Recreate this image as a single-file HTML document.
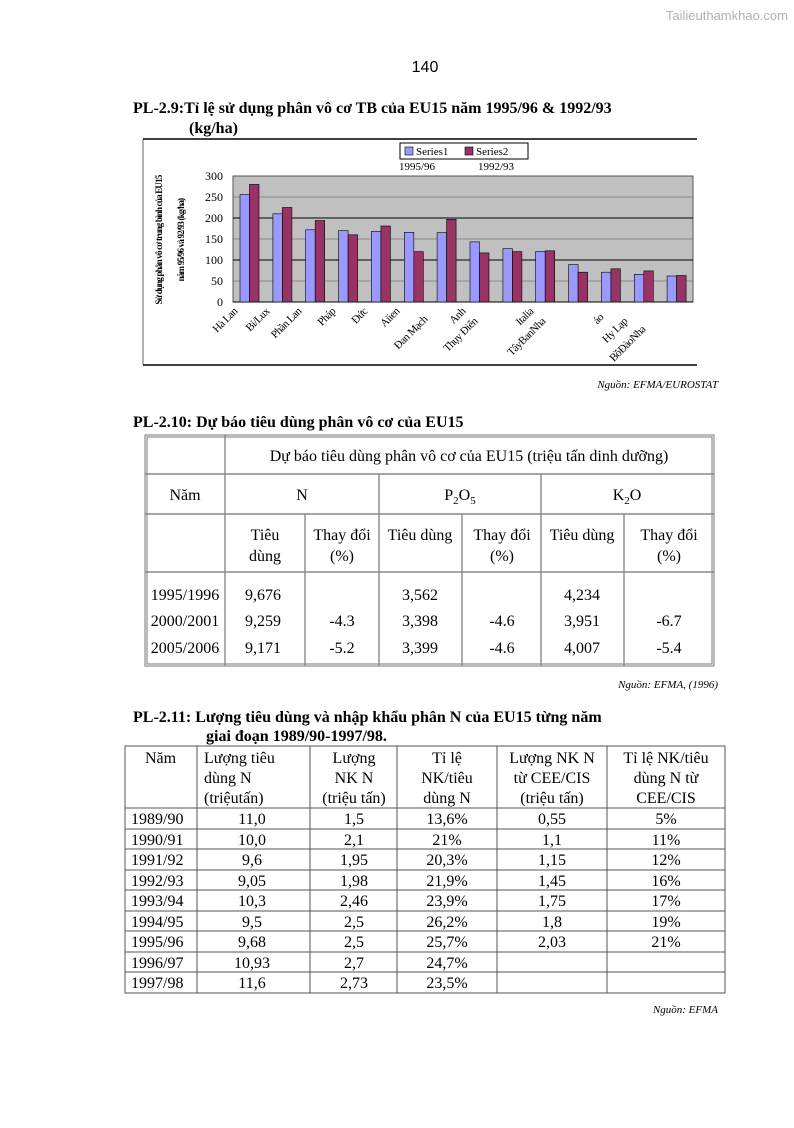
<!DOCTYPE html>
<html><head><meta charset="utf-8"><style>
body{margin:0;background:#fff}
svg text{font-family:"Liberation Serif",serif;fill:#000}
</style></head><body>
<svg width="794" height="1123" viewBox="0 0 794 1123" xmlns="http://www.w3.org/2000/svg">
<text x="788" y="20" text-anchor="end" style="font-family:'Liberation Sans',sans-serif;fill:#b0b0b0" font-size="13">Tailieuthamkhao.com</text>
<text x="425" y="72" text-anchor="middle" style="font-family:'Liberation Sans',sans-serif" font-size="16">140</text>
<text x="133" y="113" font-size="16" font-weight="bold">PL-2.9:Tỉ lệ sử dụng phân vô cơ TB của EU15 năm 1995/96 &amp; 1992/93</text>
<text x="189" y="133" font-size="16" font-weight="bold">(kg/ha)</text>

<line x1="143" y1="139" x2="697" y2="139" stroke="#000" stroke-width="1.5"/>
<line x1="143" y1="365" x2="697" y2="365" stroke="#000" stroke-width="1.5"/>
<line x1="143" y1="139" x2="143" y2="365" stroke="#000" stroke-width="0.6"/>
<rect x="233" y="176" width="460" height="126" fill="#c0c0c0" stroke="#555" stroke-width="1"/>
<g stroke="#000" stroke-width="1">
<line x1="233" y1="218" x2="693" y2="218"/><line x1="233" y1="260" x2="693" y2="260"/>
<line x1="233" y1="302" x2="693" y2="302"/>
</g>
<g stroke="#555" stroke-width="0.6">
<line x1="233" y1="197" x2="693" y2="197"/><line x1="233" y1="239" x2="693" y2="239"/><line x1="233" y1="281" x2="693" y2="281"/>
</g>
<g font-size="12" text-anchor="end">
<text x="223" y="180">300</text><text x="223" y="201">250</text><text x="223" y="222">200</text>
<text x="223" y="243">150</text><text x="223" y="264">100</text><text x="223" y="285">50</text><text x="223" y="306">0</text>
</g>
<g font-size="9" font-weight="bold" letter-spacing="-0.8">
<text transform="translate(162,240) rotate(-90)" text-anchor="middle">Sử dụng phân vô cơ trung bình của EU15</text>
<text transform="translate(184,240) rotate(-90)" text-anchor="middle">năm 95/96 và 92/93 (kg/ha)</text>
</g>
<rect x="400" y="143" width="128" height="16" fill="#fff" stroke="#000" stroke-width="1"/>
<rect x="405" y="147" width="8" height="8" fill="#9999ff" stroke="#000" stroke-width="0.6"/>
<text x="416" y="155" font-size="11">Series1</text>
<rect x="465" y="147" width="8" height="8" fill="#993366" stroke="#000" stroke-width="0.6"/>
<text x="476" y="155" font-size="11">Series2</text>
<text x="399" y="170" font-size="11">1995/96</text>
<text x="478" y="170" font-size="11">1992/93</text>
<g stroke="#000" stroke-width="0.6">
<rect x="240" y="194.5" width="9.5" height="107.5" fill="#9999ff"/><rect x="249.5" y="184.4" width="9.5" height="117.6" fill="#993366"/>
<rect x="272.9" y="213.8" width="9.5" height="88.2" fill="#9999ff"/><rect x="282.4" y="207.5" width="9.5" height="94.5" fill="#993366"/>
<rect x="305.7" y="229.8" width="9.5" height="72.2" fill="#9999ff"/><rect x="315.2" y="220.5" width="9.5" height="81.5" fill="#993366"/>
<rect x="338.6" y="230.6" width="9.5" height="71.4" fill="#9999ff"/><rect x="348.1" y="234.8" width="9.5" height="67.2" fill="#993366"/>
<rect x="371.4" y="231.4" width="9.5" height="70.6" fill="#9999ff"/><rect x="380.9" y="226" width="9.5" height="76" fill="#993366"/>
<rect x="404.3" y="232.3" width="9.5" height="69.7" fill="#9999ff"/><rect x="413.8" y="251.6" width="9.5" height="50.4" fill="#993366"/>
<rect x="437.1" y="232.7" width="9.5" height="69.3" fill="#9999ff"/><rect x="446.6" y="219.3" width="9.5" height="82.7" fill="#993366"/>
<rect x="470" y="241.9" width="9.5" height="60.1" fill="#9999ff"/><rect x="479.5" y="252.9" width="9.5" height="49.1" fill="#993366"/>
<rect x="502.9" y="248.7" width="9.5" height="53.3" fill="#9999ff"/><rect x="512.4" y="251.6" width="9.5" height="50.4" fill="#993366"/>
<rect x="535.7" y="251.6" width="9.5" height="50.4" fill="#9999ff"/><rect x="545.2" y="250.8" width="9.5" height="51.2" fill="#993366"/>
<rect x="568.6" y="264.6" width="9.5" height="37.4" fill="#9999ff"/><rect x="578.1" y="272.2" width="9.5" height="29.8" fill="#993366"/>
<rect x="601.4" y="272.2" width="9.5" height="29.8" fill="#9999ff"/><rect x="610.9" y="268.8" width="9.5" height="33.2" fill="#993366"/>
<rect x="634.3" y="274.3" width="9.5" height="27.7" fill="#9999ff"/><rect x="643.8" y="270.9" width="9.5" height="31.1" fill="#993366"/>
<rect x="667.1" y="276" width="9.5" height="26" fill="#9999ff"/><rect x="676.6" y="275.5" width="9.5" height="26.5" fill="#993366"/>
</g>
<g font-size="11" text-anchor="end" letter-spacing="-0.5">
<text transform="translate(238,312) rotate(-45)">Hà Lan</text>
<text transform="translate(270,312) rotate(-45)">Bỉ/Lux</text>
<text transform="translate(302,312) rotate(-45)">Phần Lan</text>
<text transform="translate(336,312) rotate(-45)">Pháp</text>
<text transform="translate(368,312) rotate(-45)">Đức</text>
<text transform="translate(400,312) rotate(-45)">Aiien</text>
<text transform="translate(428,320) rotate(-45)">Đan Mạch</text>
<text transform="translate(466,312) rotate(-45)">Anh</text>
<text transform="translate(478,322) rotate(-45)">Thụy Điển</text>
<text transform="translate(534,312) rotate(-45)">Italia</text>
<text transform="translate(546,322) rotate(-45)">TâyBanNha</text>
<text transform="translate(604,318) rotate(-45)">áo</text>
<text transform="translate(628,322) rotate(-45)">Hy Lạp</text>
<text transform="translate(646,330) rotate(-45)">BồĐàoNha</text>
</g>
<text x="718" y="388" text-anchor="end" font-size="11" font-style="italic">Nguồn: EFMA/EUROSTAT</text>

<text x="133" y="427" font-size="16" font-weight="bold">PL-2.10: Dự báo tiêu dùng phân vô cơ của EU15</text>
<g fill="none" stroke="#777" stroke-width="1">
<rect x="145" y="435" width="569" height="231"/><rect x="147" y="437" width="565" height="227"/>
</g>
<g stroke="#888" stroke-width="1.4">
<line x1="225" y1="435" x2="225" y2="666"/>
<line x1="145" y1="474" x2="714" y2="474"/>
<line x1="145" y1="514" x2="714" y2="514"/>
<line x1="145" y1="572" x2="714" y2="572"/>
<line x1="379" y1="474" x2="379" y2="666"/>
<line x1="541" y1="474" x2="541" y2="666"/>
<line x1="305" y1="514" x2="305" y2="666"/>
<line x1="462" y1="514" x2="462" y2="666"/>
<line x1="624" y1="514" x2="624" y2="666"/>
</g>
<g font-size="16" text-anchor="middle">
<text x="469" y="461">Dự báo tiêu dùng phân vô cơ của EU15 (triệu tấn dinh dưỡng)</text>
<text x="185" y="500">Năm</text><text x="302" y="500">N</text>
<text x="460" y="500">P<tspan font-size="11" dy="4">2</tspan><tspan dy="-4">O</tspan><tspan font-size="11" dy="4">5</tspan></text>
<text x="627" y="500">K<tspan font-size="11" dy="4">2</tspan><tspan dy="-4">O</tspan></text>
<text x="265" y="540">Tiêu</text><text x="265" y="561">dùng</text>
<text x="342" y="540">Thay đổi</text><text x="342" y="561">(%)</text>
<text x="420" y="540">Tiêu dùng</text>
<text x="502" y="540">Thay đổi</text><text x="502" y="561">(%)</text>
<text x="582" y="540">Tiêu dùng</text>
<text x="669" y="540">Thay đổi</text><text x="669" y="561">(%)</text>
<text x="185" y="600">1995/1996</text><text x="263" y="600">9,676</text><text x="420" y="600">3,562</text><text x="582" y="600">4,234</text>
<text x="185" y="626">2000/2001</text><text x="263" y="626">9,259</text><text x="342" y="626">-4.3</text><text x="420" y="626">3,398</text><text x="502" y="626">-4.6</text><text x="582" y="626">3,951</text><text x="669" y="626">-6.7</text>
<text x="185" y="653">2005/2006</text><text x="263" y="653">9,171</text><text x="342" y="653">-5.2</text><text x="420" y="653">3,399</text><text x="502" y="653">-4.6</text><text x="582" y="653">4,007</text><text x="669" y="653">-5.4</text>
</g>
<text x="718" y="688" text-anchor="end" font-size="11" font-style="italic">Nguồn: EFMA, (1996)</text>

<text x="133" y="722" font-size="16" font-weight="bold">PL-2.11: Lượng tiêu dùng và nhập khẩu phân N của EU15 từng năm</text>
<text x="206" y="741" font-size="16" font-weight="bold">giai đoạn 1989/90-1997/98.</text>
<g stroke="#555" stroke-width="1" fill="none">
<rect x="125" y="746" width="600" height="247"/>
<line x1="197" y1="746" x2="197" y2="993"/><line x1="310" y1="746" x2="310" y2="993"/>
<line x1="397" y1="746" x2="397" y2="993"/><line x1="497" y1="746" x2="497" y2="993"/>
<line x1="607" y1="746" x2="607" y2="993"/>
<line x1="125" y1="808" x2="725" y2="808"/><line x1="125" y1="829" x2="725" y2="829"/>
<line x1="125" y1="849" x2="725" y2="849"/><line x1="125" y1="870" x2="725" y2="870"/>
<line x1="125" y1="890" x2="725" y2="890"/><line x1="125" y1="911" x2="725" y2="911"/>
<line x1="125" y1="931" x2="725" y2="931"/><line x1="125" y1="952" x2="725" y2="952"/>
<line x1="125" y1="972" x2="725" y2="972"/>
</g>
<g font-size="16">
<text x="145" y="763">Năm</text>
<text x="204" y="763">Lượng tiêu</text><text x="204" y="783">dùng N</text><text x="204" y="803">(triệutấn)</text>
</g>
<g font-size="16" text-anchor="middle">
<text x="354" y="763">Lượng</text><text x="354" y="783">NK N</text><text x="354" y="803">(triệu tấn)</text>
<text x="447" y="763">Tỉ lệ</text><text x="447" y="783">NK/tiêu</text><text x="447" y="803">dùng N</text>
<text x="552" y="763">Lượng NK N</text><text x="552" y="783">từ CEE/CIS</text><text x="552" y="803">(triệu tấn)</text>
<text x="666" y="763">Tỉ lệ NK/tiêu</text><text x="666" y="783">dùng N từ</text><text x="666" y="803">CEE/CIS</text>
</g>
<g font-size="16">
<text x="131" y="824">1989/90</text><text x="131" y="845">1990/91</text><text x="131" y="865">1991/92</text>
<text x="131" y="886">1992/93</text><text x="131" y="906">1993/94</text><text x="131" y="927">1994/95</text>
<text x="131" y="947">1995/96</text><text x="131" y="968">1996/97</text><text x="131" y="988">1997/98</text>
</g>
<g font-size="16" text-anchor="middle">
<text x="252" y="824">11,0</text><text x="252" y="845">10,0</text><text x="252" y="865">9,6</text><text x="252" y="886">9,05</text><text x="252" y="906">10,3</text><text x="252" y="927">9,5</text><text x="252" y="947">9,68</text><text x="252" y="968">10,93</text><text x="252" y="988">11,6</text>
<text x="354" y="824">1,5</text><text x="354" y="845">2,1</text><text x="354" y="865">1,95</text><text x="354" y="886">1,98</text><text x="354" y="906">2,46</text><text x="354" y="927">2,5</text><text x="354" y="947">2,5</text><text x="354" y="968">2,7</text><text x="354" y="988">2,73</text>
<text x="447" y="824">13,6%</text><text x="447" y="845">21%</text><text x="447" y="865">20,3%</text><text x="447" y="886">21,9%</text><text x="447" y="906">23,9%</text><text x="447" y="927">26,2%</text><text x="447" y="947">25,7%</text><text x="447" y="968">24,7%</text><text x="447" y="988">23,5%</text>
<text x="552" y="824">0,55</text><text x="552" y="845">1,1</text><text x="552" y="865">1,15</text><text x="552" y="886">1,45</text><text x="552" y="906">1,75</text><text x="552" y="927">1,8</text><text x="552" y="947">2,03</text>
<text x="666" y="824">5%</text><text x="666" y="845">11%</text><text x="666" y="865">12%</text><text x="666" y="886">16%</text><text x="666" y="906">17%</text><text x="666" y="927">19%</text><text x="666" y="947">21%</text>
</g>
<text x="718" y="1013" text-anchor="end" font-size="11" font-style="italic">Nguồn: EFMA</text>
</svg>
</body></html>
